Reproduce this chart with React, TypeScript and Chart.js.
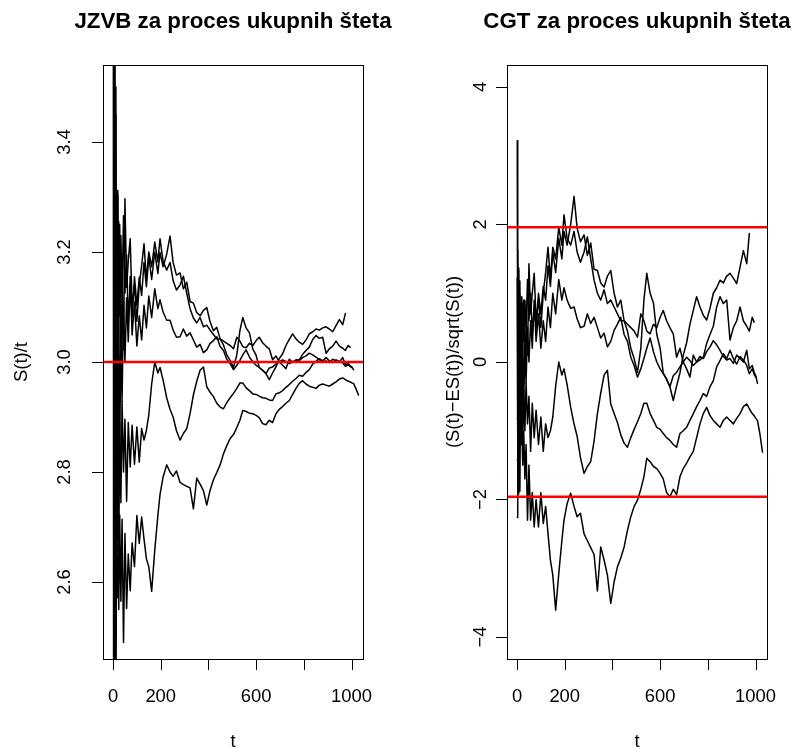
import React, { useEffect, useRef } from "react";
import { Chart, registerables } from "chart.js";

Chart.register(...registerables);

// time grid (t) shared by every path
const T = [1,2,3,4,5,6,8,10,12,14, 17,20,24,28,33,38,44,50,57,64, 72,80,90,100,110,120,130,140,150,162, 175,188,197,210,225,239,252,266,281,295, 309,323,337,351,365,379,393,407,421,435, 449,463,477,491,505,519,532,544,558,572, 586,600,613,627,641,655,669,683,697,711, 725,739,753,767,781,795,809,823,837,851, 865,879,893,907,921,935,949,963,974,986, 994,1001,1008,1018,1029];

// Left panel: S(t)/t for five paths
const JZVB_A = [7.74,2.0,4.4,2.6,3.9,2.7,3.6,2.8,3.5,3.157, 3.303,3.164,3.255,3.083,3.230,3.119,3.266,3.125,3.195,3.074, 3.139,3.082,3.155,3.103,3.154,3.121,3.181,3.137,3.192,3.150, 3.200,3.161,3.199,3.173,3.196,3.229,3.181,3.158,3.162,3.133, 3.145,3.110,3.107,3.090,3.084,3.094,3.099,3.073,3.057,3.063, 3.042,3.031,3.013,3.003,2.990,3.013,3.057,3.081,3.062,3.053, 3.024,3.012,2.990,2.985,2.979,2.968,2.980,2.991,3.006,3.015, 3.030,3.041,3.051,3.042,3.036,3.032,3.040,3.051,3.055,3.060, 3.058,3.062,3.064,3.060,3.055,3.066,3.077,3.068,3.088,null, null,null,null,null,null];
const JZVB_B = [1.8,4.1,2.7,4.2,3.1,3.8,3.0,3.45,2.9,3.314, 2.857,3.312,3.090,3.250,2.949,3.143,3.022,3.297,3.136,3.184, 3.224,3.099,3.140,3.074,3.140,3.175,3.215,3.149,3.200,3.173, 3.218,3.182,3.224,3.183,3.167,3.181,3.148,3.131,3.140,3.156, 3.125,3.097,3.080,3.071,3.081,3.064,3.067,3.058,3.050,3.042, 3.042,3.038,3.034,3.030,3.024,3.045,3.038,3.028,3.026,3.034, 3.030,3.039,3.045,3.035,3.029,3.024,3.004,3.011,3.000,2.994, 2.988,3.005,3.000,3.002,3.004,3.014,3.021,3.027,3.041,3.048, 3.043,3.045,3.016,3.024,3.029,3.038,3.029,3.025,3.021,3.030, 3.027,null,null,null,null];
const JZVB_C = [4.8,2.3,3.9,2.2,3.6,2.4,3.3,2.6,3.2,2.882, 3.214,2.836,3.120,2.833,3.051,2.928,3.111,3.000,3.117,3.037, 3.156,3.049,3.109,3.029,3.084,3.040,3.103,3.062,3.120,3.081, 3.133,3.097,3.113,3.091,3.076,3.076,3.058,3.045,3.046,3.060, 3.047,3.053,3.040,3.027,3.032,3.017,3.022,3.034,3.039,3.046, 3.028,3.021,3.005,2.997,2.986,2.994,3.003,3.013,3.022,3.009, 3.000,2.994,2.990,2.985,2.979,2.989,2.991,2.996,3.000,3.004, 3.001,2.997,3.000,3.004,3.003,3.008,3.011,3.016,3.013,3.009, 3.004,3.001,3.002,2.999,3.005,3.002,3.000,3.008,2.995,2.998, 2.993,2.991,2.986,null,null];
const JZVB_D = [0.9,3.8,1.9,3.5,2.1,3.3,2.3,3.1,2.5,3.079, 2.679,2.934,2.640,2.889,2.744,2.928,2.800,2.896,2.747,2.890, 2.809,2.885,2.814,2.882,2.818,2.879,2.858,2.876,2.904,2.960, 3.000,2.980,2.990,2.967,2.935,2.914,2.900,2.875,2.858,2.870, 2.879,2.906,2.940,2.965,2.985,2.991,2.955,2.945,2.937,2.925, 2.918,2.915,2.926,2.935,2.943,2.952,2.962,2.962,2.953,2.948, 2.942,2.941,2.938,2.935,2.934,2.931,2.930,2.942,2.944,2.948, 2.954,2.959,2.965,2.970,2.976,2.974,2.981,2.986,2.996,3.001, 3.006,3.002,3.008,3.002,2.999,3.004,3.001,2.998,2.992,2.995, 2.992,2.990,null,null,null];
const JZVB_E = [0.3,3.3,1.6,3.0,1.9,2.9,2.0,2.8,2.2,2.646, 2.572,2.704,2.550,2.722,2.565,2.714,2.490,2.688,2.552,2.651, 2.584,2.671,2.628,2.721,2.670,2.718,2.678,2.642,2.628,2.583, 2.658,2.721,2.759,2.791,2.813,2.800,2.792,2.802,2.781,2.777, 2.774,2.771,2.733,2.789,2.778,2.766,2.740,2.767,2.786,2.799, 2.813,2.833,2.848,2.861,2.868,2.881,2.894,2.912,2.910,2.907, 2.906,2.903,2.899,2.888,2.886,2.894,2.890,2.906,2.914,2.919, 2.925,2.930,2.941,2.952,2.961,2.966,2.960,2.956,2.954,2.952, 2.958,2.960,2.958,2.956,2.960,2.964,2.969,2.971,2.968,2.965, 2.964,2.962,2.961,2.952,2.940];

// Right panel: (S(t)-ES(t))/sqrt(S(t)) for the same five paths
const CGT_A = [3.22,-0.96,1.65,-0.54,1.37,-0.5,1.15,-0.43,1.18,0.4, 0.85,0.5,0.85,0.3,0.9,0.5,1.2,0.6,1.0,0.4, 0.8,0.5,1.0,0.7,1.1,0.9,1.4,1.1,1.6,1.3, 1.8,1.5,1.9,1.7,2.0,2.41,1.95,1.75,1.85,1.55, 1.73,1.35,1.33,1.15,1.09,1.25,1.33,1.0,0.8,0.9, 0.6,0.45,0.2,0.05,-0.15,0.2,0.9,1.29,1.0,0.86, 0.4,0.2,-0.16,-0.25,-0.36,-0.56,-0.35,-0.16,0.1,0.28, 0.55,0.75,0.95,0.8,0.68,0.61,0.78,1.0,1.08,1.19, 1.15,1.25,1.29,1.22,1.14,1.38,1.62,1.43,1.87,null, null,null,null,null,null];
const CGT_B = [-0.82,1.06,-0.35,1.63,0.15,1.33,0.0,0.97,-0.24,0.8, -0.4,0.95,0.3,0.9,-0.2,0.6,0.1,1.43,0.7,1.0, 1.29,0.6,0.9,0.5,1.0,1.3,1.67,1.2,1.67,1.5, 1.96,1.7,2.14,1.8,1.7,1.9,1.6,1.45,1.6,1.82, 1.5,1.19,1.0,0.9,1.05,0.85,0.9,0.8,0.7,0.6, 0.6,0.55,0.5,0.45,0.36,0.7,0.6,0.45,0.41,0.55, 0.5,0.65,0.75,0.6,0.5,0.41,0.07,0.2,0.0,-0.1, -0.22,0.1,0.0,0.03,0.07,0.27,0.4,0.52,0.8,0.95, 0.85,0.9,0.32,0.5,0.6,0.8,0.6,0.52,0.45,0.65, 0.58,null,null,null,null];
const CGT_C = [1.22,-0.67,1.06,-1.09,0.91,-1.0,0.58,-0.86,0.47,-0.3, 0.6,-0.5,0.4,-0.6,0.2,-0.3,0.5,0.0,0.6,0.2, 0.9,0.3,0.7,0.2,0.6,0.3,0.8,0.5,1.0,0.7, 1.2,0.9,1.08,0.9,0.78,0.8,0.63,0.5,0.52,0.7, 0.56,0.65,0.5,0.35,0.42,0.22,0.3,0.46,0.55,0.65, 0.4,0.3,0.07,-0.05,-0.22,-0.1,0.05,0.2,0.35,0.15, 0.0,-0.1,-0.17,-0.25,-0.36,-0.2,-0.15,-0.07,0.0,0.07, 0.02,-0.05,0.0,0.08,0.05,0.15,0.22,0.31,0.25,0.17, 0.08,0.03,0.05,-0.02,0.1,0.05,0.0,0.17,-0.1,-0.05, -0.15,-0.2,-0.31,null,null];
const CGT_D = [-1.43,0.77,-1.3,0.68,-1.37,0.5,-1.35,0.22,-1.18,0.2, -0.9,-0.2,-1.2,-0.4,-1.0,-0.3,-0.9,-0.5,-1.3,-0.6, -1.1,-0.7,-1.2,-0.8,-1.3,-0.9,-1.1,-1.0,-0.8,-0.35, 0.0,-0.19,-0.1,-0.33,-0.66,-0.9,-1.08,-1.39,-1.62,-1.52, -1.45,-1.15,-0.75,-0.45,-0.19,-0.12,-0.61,-0.75,-0.88,-1.06, -1.18,-1.24,-1.1,-0.98,-0.87,-0.75,-0.6,-0.6,-0.75,-0.85, -0.95,-0.98,-1.04,-1.1,-1.14,-1.2,-1.24,-1.04,-1.0,-0.95, -0.85,-0.75,-0.65,-0.56,-0.46,-0.5,-0.36,-0.27,-0.07,0.02, 0.12,0.05,0.17,0.05,-0.03,0.08,0.03,-0.05,-0.17,-0.1, -0.18,-0.22,null,null,null];
const CGT_E = [-2.26,0.29,-1.65,0.0,-1.67,-0.17,-1.92,-0.43,-1.88,-0.9, -1.2,-0.9,-1.5,-1.0,-1.7,-1.2,-2.3,-1.5,-2.3,-1.9, -2.4,-2.0,-2.4,-1.9,-2.35,-2.1,-2.5,-2.88,-3.1,-3.61, -3.08,-2.6,-2.3,-2.06,-1.91,-2.1,-2.25,-2.2,-2.5,-2.6, -2.7,-2.8,-3.33,-2.69,-2.88,-3.1,-3.51,-3.2,-2.98,-2.85, -2.69,-2.45,-2.25,-2.1,-2.01,-1.85,-1.67,-1.4,-1.45,-1.52, -1.55,-1.62,-1.7,-1.9,-1.96,-1.85,-1.93,-1.67,-1.55,-1.47, -1.38,-1.3,-1.1,-0.9,-0.75,-0.66,-0.78,-0.85,-0.9,-0.95, -0.85,-0.8,-0.85,-0.9,-0.82,-0.75,-0.65,-0.61,-0.68,-0.75, -0.78,-0.82,-0.85,-1.04,-1.31];

// reference lines
const JZVB_REF = [3.0];
const CGT_REF = [-1.96, 1.96];

// axes
const X_RANGE = [-42, 1048];
const X_TICKS = [0, 200, 400, 600, 800, 1000];
const X_TICK_LABELS = ["0", "200", "", "600", "", "1000"];
const JZVB_Y_RANGE = [2.46, 3.54];
const JZVB_Y_TICKS = [2.6, 2.8, 3.0, 3.2, 3.4];
const JZVB_Y_LABELS = ["2.6", "2.8", "3.0", "3.2", "3.4"];
const CGT_Y_RANGE = [-4.32, 4.32];
const CGT_Y_TICKS = [-4, -2, 0, 2, 4];
const CGT_Y_LABELS = ["\u22124", "\u22122", "0", "2", "4"];

const W = 791;
const H = 749;
const FONT = '"Liberation Sans", Arial, Helvetica, sans-serif';
const TICK_PX = 18.4;
const TITLE_PX = 22.3;

type PanelSpec = {
  title: string;
  ylab: string;
  left: number;
  right: number;
  top: number;
  bottom: number;
  yRange: number[];
  yTicks: number[];
  yLabels: string[];
  yTickLabelX: number;
  ylabX: number;
  paths: (number | null)[][];
  refs: number[];
};

const PANELS: PanelSpec[] = [
  {
    title: "JZVB za proces ukupnih šteta",
    ylab: "S(t)/t",
    left: 103, right: 363, top: 65, bottom: 659,
    yRange: JZVB_Y_RANGE, yTicks: JZVB_Y_TICKS, yLabels: JZVB_Y_LABELS,
    yTickLabelX: 69.8, ylabX: 26.5,
    paths: [JZVB_A, JZVB_B, JZVB_C, JZVB_D, JZVB_E],
    refs: JZVB_REF,
  },
  {
    title: "CGT za proces ukupnih šteta",
    ylab: "(S(t)\u2212ES(t))/sqrt(S(t))",
    left: 507, right: 767, top: 65, bottom: 659,
    yRange: CGT_Y_RANGE, yTicks: CGT_Y_TICKS, yLabels: CGT_Y_LABELS,
    yTickLabelX: 485.5, ylabX: 458.5,
    paths: [CGT_A, CGT_B, CGT_C, CGT_D, CGT_E],
    refs: CGT_REF,
  },
];

function toPoints(vals: (number | null)[]) {
  const out: { x: number; y: number }[] = [];
  for (let i = 0; i < T.length; i++) {
    const v = vals[i];
    if (v !== null && v !== undefined) out.push({ x: T[i], y: v });
  }
  return out;
}

function makeAxesPlugin(spec: PanelSpec) {
  return {
    id: "rBaseAxes",
    afterDraw(chart: any) {
      const ctx: CanvasRenderingContext2D = chart.ctx;
      const xs = chart.scales.x;
      const ys = chart.scales.y;
      const a = chart.chartArea;
      ctx.save();
      ctx.strokeStyle = "#000";
      ctx.fillStyle = "#000";
      ctx.lineWidth = 1;
      // box
      ctx.strokeRect(Math.round(a.left) + 0.5, Math.round(a.top) + 0.5, Math.round(a.right - a.left), Math.round(a.bottom - a.top));
      // x ticks
      ctx.beginPath();
      X_TICKS.forEach((v) => {
        const px = Math.round(xs.getPixelForValue(v)) + 0.5;
        ctx.moveTo(px, a.bottom);
        ctx.lineTo(px, a.bottom + 11);
      });
      // y ticks
      spec.yTicks.forEach((v) => {
        const py = Math.round(ys.getPixelForValue(v)) + 0.5;
        ctx.moveTo(a.left, py);
        ctx.lineTo(a.left - 11, py);
      });
      ctx.stroke();
      // x tick labels
      ctx.font = `${TICK_PX}px ${FONT}`;
      ctx.textAlign = "center";
      ctx.textBaseline = "alphabetic";
      X_TICKS.forEach((v, i) => {
        const lab = X_TICK_LABELS[i];
        if (lab) ctx.fillText(lab, xs.getPixelForValue(v), 701.5);
      });
      // y tick labels (rotated)
      spec.yTicks.forEach((v, i) => {
        const py = ys.getPixelForValue(v);
        ctx.save();
        ctx.translate(spec.yTickLabelX, py);
        ctx.rotate(-Math.PI / 2);
        ctx.fillText(spec.yLabels[i], 0, 0);
        ctx.restore();
      });
      // axis titles
      const cx = (a.left + a.right) / 2;
      const cy = (a.top + a.bottom) / 2;
      ctx.fillText("t", cx, 746.5);
      ctx.save();
      ctx.translate(spec.ylabX, cy);
      ctx.rotate(-Math.PI / 2);
      ctx.fillText(spec.ylab, 0, 0);
      ctx.restore();
      // main title
      ctx.font = `bold ${TITLE_PX}px ${FONT}`;
      ctx.fillText(spec.title, cx, 27.5);
      ctx.restore();
    },
  };
}

function Panel({ spec }: { spec: PanelSpec }) {
  const ref = useRef<HTMLCanvasElement | null>(null);
  useEffect(() => {
    if (!ref.current) return;
    const pathSets = spec.paths.map((p) => ({
      data: toPoints(p),
      borderColor: "#000000",
      borderWidth: 1.5,
      pointRadius: 0,
      tension: 0,
      fill: false,
      clip: 0,
      borderJoinStyle: "round" as const,
      borderCapStyle: "round" as const,
      order: 2,
    }));
    const refSets = spec.refs.map((r) => ({
      data: [
        { x: X_RANGE[0], y: r },
        { x: X_RANGE[1], y: r },
      ],
      borderColor: "#ff0000",
      borderWidth: 2.6,
      pointRadius: 0,
      tension: 0,
      fill: false,
      clip: 0,
      order: 1,
    }));
    const chart = new Chart(ref.current, {
      type: "line",
      data: { datasets: [...pathSets, ...refSets] as any },
      options: {
        animation: false,
        responsive: false,
        devicePixelRatio: 1,
        events: [],
        layout: {
          padding: {
            left: spec.left,
            right: W - spec.right,
            top: spec.top,
            bottom: H - spec.bottom,
          },
        },
        scales: {
          x: { type: "linear", min: X_RANGE[0], max: X_RANGE[1], display: false },
          y: { type: "linear", min: spec.yRange[0], max: spec.yRange[1], display: false },
        },
        plugins: { legend: { display: false }, tooltip: { enabled: false } },
      },
      plugins: [makeAxesPlugin(spec)],
    } as any);
    return () => chart.destroy();
  }, [spec]);
  return (
    <canvas
      ref={ref}
      width={W}
      height={H}
      style={{ position: "absolute", left: 0, top: 0, width: W, height: H }}
    />
  );
}

export default function App() {
  return (
    <div style={{ position: "absolute", left: 0, top: 0, width: W, height: H, background: "#ffffff" }}>
      {PANELS.map((p, i) => (
        <Panel key={i} spec={p} />
      ))}
    </div>
  );
}
